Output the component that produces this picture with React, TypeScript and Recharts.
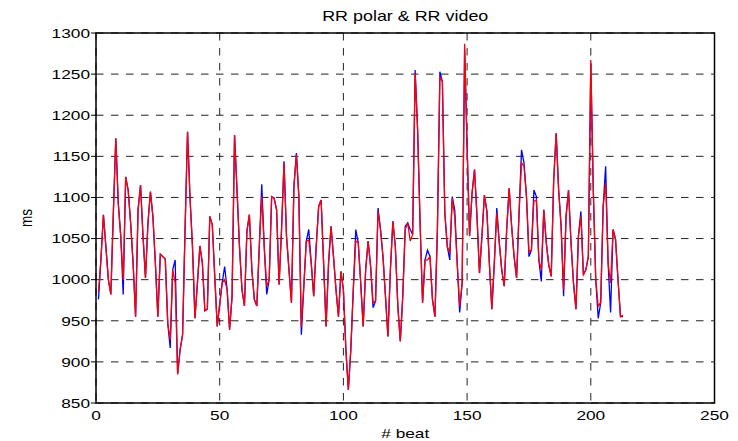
import React from 'react';
import { LineChart, Line, XAxis, YAxis, CartesianGrid, ReferenceArea } from 'recharts';

const beatTicks = [0, 50, 100, 150, 200, 250];
const msTicks = [850, 900, 950, 1000, 1050, 1100, 1150, 1200, 1250, 1300];

// RR interval from the Polar monitor (blue), beats 1..213
const rrPolar = [
  976, 1025, 1079, 1040, 1000, 982, 1080, 1172, 1093, 1053,
  982, 1125, 1109, 1069, 1020, 955, 1085, 1115, 1053, 1002,
  1069, 1107, 1077, 1020, 955, 1031, 1028, 1025, 947, 917,
  1012, 1024, 885, 915, 933, 1061, 1180, 1100, 1040, 953,
  996, 1041, 1020, 962, 964, 1077, 1067, 1004, 943, 970,
  996, 1016, 988, 939, 980, 1176, 1109, 1040, 988, 968,
  1059, 1079, 1012, 976, 968, 1040, 1116, 1040, 982, 1000,
  1101, 1099, 1085, 994, 1061, 1144, 1053, 1012, 972, 1113,
  1154, 1101, 933, 992, 1047, 1061, 1020, 980, 1040, 1089,
  1097, 1020, 943, 1020, 1065, 1028, 988, 955, 1010, 988,
  915, 866, 915, 988, 1061, 1045, 996, 943, 1012, 1047,
  1016, 966, 974, 1087, 1061, 1028, 980, 931, 1012, 1071,
  1040, 968, 925, 980, 1065, 1069, 1061, 1055, 1255, 1182,
  1069, 972, 1024, 1036, 1028, 976, 955, 1061, 1253, 1241,
  1081, 1040, 1024, 1101, 1085, 1020, 960, 996, 1280, 1162,
  1053, 1105, 1134, 1077, 1008, 1053, 1103, 1083, 1020, 964,
  1020, 1087, 1045, 1012, 992, 1061, 1111, 1065, 1028, 1002,
  1081, 1158, 1142, 1101, 1028, 1036, 1109, 1101, 1024, 998,
  1085, 1045, 1018, 1004, 1121, 1178, 1109, 1065, 980, 1077,
  1109, 1045, 996, 964, 1053, 1083, 1006, 1012, 1028, 1263,
  1110, 1000, 953, 972, 1089, 1138, 1020, 960, 1061, 1049,
  1000, 955, 955,
];

// RR interval from the video (red), beats 1..213
const rrVideo = [
  985, 1025, 1079, 1040, 1000, 982, 1080, 1172, 1093, 1053,
  1000, 1125, 1109, 1069, 1020, 955, 1085, 1115, 1053, 1002,
  1069, 1107, 1077, 1020, 955, 1031, 1028, 1025, 947, 927,
  1012, 996, 885, 915, 933, 1061, 1180, 1100, 1040, 953,
  996, 1041, 1020, 962, 964, 1077, 1067, 1004, 943, 970,
  996, 1000, 988, 939, 980, 1176, 1109, 1040, 988, 968,
  1059, 1079, 1012, 976, 968, 1040, 1101, 1040, 992, 1000,
  1101, 1099, 1085, 994, 1061, 1142, 1053, 1012, 972, 1113,
  1152, 1101, 943, 992, 1047, 1048, 1020, 980, 1040, 1089,
  1097, 1020, 943, 1020, 1065, 1028, 988, 955, 1010, 988,
  915, 866, 915, 988, 1047, 1045, 996, 943, 1012, 1047,
  1016, 972, 974, 1083, 1061, 1028, 980, 931, 1012, 1071,
  1040, 968, 925, 980, 1061, 1069, 1047, 1055, 1251, 1182,
  1069, 972, 1024, 1024, 1028, 976, 955, 1061, 1247, 1241,
  1081, 1040, 1034, 1099, 1077, 1020, 968, 996, 1287, 1162,
  1053, 1105, 1134, 1077, 1008, 1053, 1103, 1083, 1020, 964,
  1020, 1081, 1045, 1012, 992, 1061, 1111, 1065, 1028, 1002,
  1081, 1142, 1138, 1101, 1034, 1036, 1095, 1097, 1024, 1012,
  1085, 1045, 1018, 1004, 1121, 1178, 1109, 1065, 988, 1077,
  1109, 1045, 996, 964, 1053, 1077, 1006, 1012, 1028, 1267,
  1110, 1000, 968, 972, 1089, 1117, 1020, 996, 1061, 1049,
  1000, 955, 957,
];

const beats = rrPolar.map((_, i) => i + 1);
const data = beats.map((b, i) => ({ beat: b, polar: rrPolar[i], video: rrVideo[i] }));

const SX = 1.28;
const FONT = '"Liberation Sans", Arial, Helvetica, sans-serif';
const FS = 13.5;

function XTick(props: any) {
  const { x, y, payload } = props;
  return (
    <g transform={`translate(${x},${y}) scale(${SX},1)`}>
      <text x={0} y={17.5} textAnchor="middle" fontSize={FS} fontFamily={FONT} fill="#000">
        {payload.value}
      </text>
    </g>
  );
}

function YTick(props: any) {
  const { x, y, payload } = props;
  return (
    <g transform={`translate(${x},${y}) scale(${SX},1)`}>
      <text x={0} y={4.8} textAnchor="end" fontSize={FS} fontFamily={FONT} fill="#000">
        {payload.value}
      </text>
    </g>
  );
}

function XLabel(props: any) {
  const vb = props.viewBox || {};
  const cx = vb.x + vb.width / 2;
  return (
    <g transform={`translate(${cx},438) scale(${SX},1)`}>
      <text x={0} y={0} textAnchor="middle" fontSize={FS} fontFamily={FONT} fill="#000">
        # beat
      </text>
    </g>
  );
}

function YLabel(props: any) {
  const vb = props.viewBox || {};
  const cy = vb.y + vb.height / 2;
  return (
    <g transform={`translate(32,${cy}) rotate(-90) scale(1,${SX})`}>
      <text x={0} y={0} textAnchor="middle" fontSize={FS} fontFamily={FONT} fill="#000">
        ms
      </text>
    </g>
  );
}

function Title(props: any) {
  const vb = props.viewBox || {};
  const cx = vb.x + vb.width / 2;
  return (
    <g transform={`translate(${cx},${vb.y - 12}) scale(${SX},1)`}>
      <text x={0} y={0} textAnchor="middle" fontSize={14} fontFamily={FONT} fill="#000">
        RR polar &amp; RR video
      </text>
    </g>
  );
}

export default function App() {
  return (
    <div style={{ position: 'absolute', left: 0, top: 0, width: 738, height: 441, background: '#fff' }}>
      <LineChart
        width={738}
        height={441}
        data={data}
        margin={{ top: 33, right: 23.5, bottom: 0, left: 0 }}
      >
        <CartesianGrid stroke="#222" strokeDasharray="7.5 7.5" strokeWidth={1} />
        <XAxis
          dataKey="beat"
          type="number"
          domain={[0, 250]}
          ticks={beatTicks}
          axisLine={false}
          tickLine={false}
          tickSize={0}
          tickMargin={0}
          height={38}
          tick={<XTick />}
          label={<XLabel />}
          allowDataOverflow
        />
        <YAxis
          type="number"
          domain={[850, 1300]}
          ticks={msTicks}
          axisLine={false}
          tickLine={{ stroke: '#000' }}
          tickSize={5}
          tickMargin={1}
          width={96}
          tick={<YTick />}
          label={<YLabel />}
          allowDataOverflow
        />
        <Line
          dataKey="polar"
          stroke="#0000ff"
          strokeWidth={1.3}
          dot={false}
          isAnimationActive={false}
        />
        <Line
          dataKey="video"
          stroke="#ff0000"
          strokeWidth={1.3}
          dot={false}
          isAnimationActive={false}
        />
        <ReferenceArea
          x1={0}
          x2={250}
          y1={850}
          y2={1300}
          fill="none"
          stroke="#000"
          strokeWidth={1.5}
          ifOverflow="visible"
          label={<Title />}
        />
      </LineChart>
    </div>
  );
}
